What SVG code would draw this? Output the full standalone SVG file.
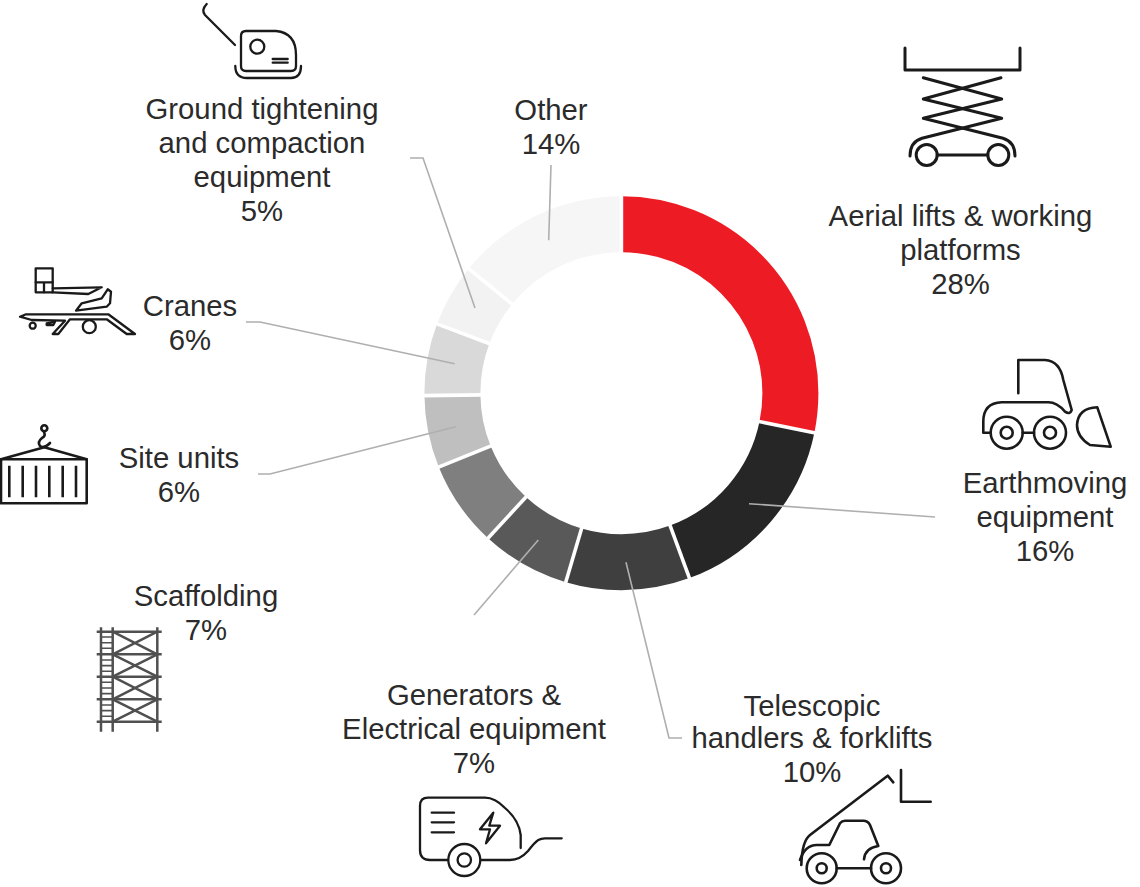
<svg xmlns="http://www.w3.org/2000/svg" width="1140" height="887" viewBox="0 0 1140 887">
<style>
text{font-family:"Liberation Sans",Arial,sans-serif;font-size:29.3px;fill:#2b2b2b;text-anchor:middle}
.s{fill:none;stroke-width:56}
.sep{stroke:#fff;stroke-width:3.6}
.ld{fill:none;stroke:#afafaf;stroke-width:1.6}
.ic{fill:none;stroke:#1a1a1a;stroke-width:2.6;stroke-linecap:round;stroke-linejoin:round}
.th{stroke-width:3}
.m{stroke-width:2.3}
.sc{stroke:#505050;stroke-width:2.5;stroke-linecap:butt}
</style>
<rect width="1140" height="887" fill="#fff"/>
<g id="donut" transform="rotate(-90 621.4 393.2)">
<circle class="s" cx="621.4" cy="393.2" r="169" pathLength="360" stroke="#ed1c24" stroke-dasharray="101.6 360" stroke-dashoffset="0"/>
<circle class="s" cx="621.4" cy="393.2" r="169" pathLength="360" stroke="#262626" stroke-dasharray="58.2 360" stroke-dashoffset="-101.6"/>
<circle class="s" cx="621.4" cy="393.2" r="169" pathLength="360" stroke="#3f3f3f" stroke-dasharray="36.6 360" stroke-dashoffset="-159.8"/>
<circle class="s" cx="621.4" cy="393.2" r="169" pathLength="360" stroke="#595959" stroke-dasharray="26.2 360" stroke-dashoffset="-196.4"/>
<circle class="s" cx="621.4" cy="393.2" r="169" pathLength="360" stroke="#7f7f7f" stroke-dasharray="25.4 360" stroke-dashoffset="-222.6"/>
<circle class="s" cx="621.4" cy="393.2" r="169" pathLength="360" stroke="#bfbfbf" stroke-dasharray="21.3 360" stroke-dashoffset="-248"/>
<circle class="s" cx="621.4" cy="393.2" r="169" pathLength="360" stroke="#d9d9d9" stroke-dasharray="21.3 360" stroke-dashoffset="-269.3"/>
<circle class="s" cx="621.4" cy="393.2" r="169" pathLength="360" stroke="#f2f2f2" stroke-dasharray="18.6 360" stroke-dashoffset="-290.6"/>
<circle class="s" cx="621.4" cy="393.2" r="169" pathLength="360" stroke="#f6f6f6" stroke-dasharray="50.8 360" stroke-dashoffset="-309.2"/>
</g>
<g id="separators" class="sep">
<line x1="621.4" y1="194" x2="621.4" y2="254" transform="rotate(0 621.4 393.2)"/>
<line x1="621.4" y1="194" x2="621.4" y2="254" transform="rotate(101.6 621.4 393.2)"/>
<line x1="621.4" y1="194" x2="621.4" y2="254" transform="rotate(159.8 621.4 393.2)"/>
<line x1="621.4" y1="194" x2="621.4" y2="254" transform="rotate(196.4 621.4 393.2)"/>
<line x1="621.4" y1="194" x2="621.4" y2="254" transform="rotate(222.6 621.4 393.2)"/>
<line x1="621.4" y1="194" x2="621.4" y2="254" transform="rotate(248 621.4 393.2)"/>
<line x1="621.4" y1="194" x2="621.4" y2="254" transform="rotate(269.3 621.4 393.2)"/>
<line x1="621.4" y1="194" x2="621.4" y2="254" transform="rotate(290.6 621.4 393.2)"/>
<line x1="621.4" y1="194" x2="621.4" y2="254" transform="rotate(309.2 621.4 393.2)"/>
</g>
<g id="connectors" class="ld">
<path d="M551 165L548.7 240.3"/>
<path d="M410 158H423L475 308"/>
<path d="M246 322H260L454.7 363.7"/>
<path d="M258 474H270L455.7 426.7"/>
<path d="M474 615L538.3 540"/>
<path d="M682 738H669L626 562.3"/>
<path d="M935 517L749 503.7"/>
</g>
<g id="aerial">
<text><tspan x="960.5" y="226">Aerial lifts &amp; working</tspan><tspan x="960.5" y="260">platforms</tspan><tspan x="960.5" y="294">28%</tspan></text>
<g class="ic th"><path d="M905 48V70H1020V48"/><path d="M923.3 77.7L1001.7 99L923.3 118.3L1003 138.3Q1015 142 1015 156"/><path d="M1001 77.7L923.3 99L1001.7 118.3L922 138.3Q910 142 910 156"/><circle cx="926.7" cy="155" r="10.5"/><circle cx="998.3" cy="155" r="10.5"/><path d="M937.2 155H987.8"/></g>
</g>
<g id="earthmoving">
<text><tspan x="1045" y="493">Earthmoving</tspan><tspan x="1045" y="527">equipment</tspan><tspan x="1045" y="561">16%</tspan></text>
<g class="ic"><path d="M1018.3 393.3V360H1045Q1060 361 1063.3 380L1071.7 410Q1070 415 1065 411.7Q1057 402.3 1048.3 402.3H1001.7Q983.3 403 983.3 421.7V432.7H990.7"/><circle cx="1006.7" cy="432.7" r="16"/><circle cx="1006.7" cy="432.7" r="6"/><circle cx="1050" cy="432.7" r="16"/><circle cx="1050" cy="432.7" r="6"/><path d="M1022.7 432.7H1034"/><path d="M1097.3 407.3L1110.7 446.7L1090 445Q1077 437 1077 425Q1078 408 1097.3 407.3Z"/></g>
</g>
<g id="telescopic">
<text><tspan x="812" y="716">Telescopic</tspan><tspan x="812" y="748">handlers &amp; forklifts</tspan><tspan x="812" y="782">10%</tspan></text>
<g class="ic"><path d="M901 770V801.7H930.7"/><path d="M893.3 782.3L887.7 775.7L810 835Q802 841 801.3 865"/><path d="M800 860Q805 845 816.7 845H829.3L840 823.3Q842 820.7 845 820.7H863.3Q868 820.7 870 825L878.3 846Q865 848 864 859.3"/><circle cx="821.7" cy="868.3" r="15"/><circle cx="821.7" cy="868.3" r="5"/><circle cx="886" cy="868.3" r="15"/><circle cx="886" cy="868.3" r="5"/><path d="M836.7 868.3H871"/></g>
</g>
<g id="generators">
<text><tspan x="474" y="705">Generators &amp;</tspan><tspan x="474" y="739">Electrical equipment</tspan><tspan x="474" y="773">7%</tspan></text>
<g class="ic m"><path d="M520.7 848V835Q519 820 505 808Q495 797.7 485 797.7H428Q420 797.7 420 806V850Q420 860 430 860H448"/><path d="M481 860H510Q520 860 528 851Q535 842 538.3 840Q541 838.3 545 838.3H561.7"/><circle cx="464.3" cy="860" r="16"/><circle cx="464.3" cy="860" r="6.7"/><path d="M431.7 812.7H454M431.7 822.3H454M431.7 832.3H454"/><path d="M493.3 812.7L480 829.3H490L486 843.3L500 825.7H489.3Z"/></g>
</g>
<g id="scaffolding">
<text><tspan x="206" y="606">Scaffolding</tspan><tspan x="206" y="640">7%</tspan></text>
<g class="ic sc"><path d="M101 627.3V731.7M112.7 627.3V731.7M157.3 627.3V731.7"/><path d="M96.7 631.7H161.7M96.7 654.3H161.7M96.7 676.7H161.7M96.7 699.3H161.7M96.7 721.7H161.7"/><path d="M112.7 631.7L157.3 654.3M157.3 631.7L112.7 654.3M112.7 654.3L157.3 676.7M157.3 654.3L112.7 676.7M112.7 676.7L157.3 699.3M157.3 676.7L112.7 699.3M112.7 699.3L157.3 721.7M157.3 699.3L112.7 721.7"/><path stroke-width="1.6" d="M101 637H112.7M101 642.7H112.7M101 648.3H112.7M101 660H112.7M101 665.6H112.7M101 671.2H112.7M101 682.3H112.7M101 688H112.7M101 693.6H112.7M101 705H112.7M101 710.6H112.7M101 716.2H112.7"/></g>
</g>
<g id="site-units">
<text><tspan x="179" y="468">Site units</tspan><tspan x="179" y="502">6%</tspan></text>
<g class="ic"><circle cx="44.3" cy="428.3" r="3"/><path d="M44 432Q46 436 42 438Q37 442 40 446Q44 449 50 443"/><path d="M1 459.3L44.3 447.3L86.7 459.3"/><rect x="1" y="459.3" width="85.7" height="44"/><path stroke-linecap="butt" d="M9.3 465.7V497.3M22.7 465.7V497.3M36 465.7V497.3M49.3 465.7V497.3M62.7 465.7V497.3M76 465.7V497.3"/></g>
</g>
<g id="cranes">
<text><tspan x="190" y="316">Cranes</tspan><tspan x="190" y="350">6%</tspan></text>
<g class="ic m"><rect x="35.7" y="268.3" width="17" height="24"/><path d="M35.7 282.3H52.7M44 282.3V292.3"/><path d="M52.7 288.3L101.7 287.3L88.3 294L52.7 292.3"/><path d="M76 310.7L81.7 303.3L101.7 298.3L107.7 289.3L111 291.7L110 303.3L106.7 306.7Z"/><path d="M20 316.7L26 314.3H108.3L135 334H126.7L106.7 319.3H70L58.3 334H52.7L65 320.7L31.7 320Z"/><circle cx="32.7" cy="325.7" r="3"/><circle cx="89.3" cy="326.7" r="6.5"/><path d="M46.7 323.3L55 321.7L53.3 325H46.7Z"/></g>
</g>
<g id="ground">
<text><tspan x="262" y="119">Ground tightening</tspan><tspan x="262" y="153">and compaction</tspan><tspan x="262" y="187">equipment</tspan><tspan x="262" y="221">5%</tspan></text>
<g class="ic m"><path d="M206.7 4Q201 10 205 15L235 45"/><path d="M246 31H276Q296 33 296 55V66Q296 71 291 71H246Q241 71 241 66V36Q241 31 246 31Z"/><circle cx="257.3" cy="46.7" r="7"/><path d="M272.7 59H287.7M272.7 62.7H287.7"/><path d="M235.3 66Q235.3 78 247 78H291Q301 78 301 66"/></g>
</g>
<g id="other">
<text><tspan x="551" y="120">Other</tspan><tspan x="551" y="154">14%</tspan></text>
</g>
</svg>
